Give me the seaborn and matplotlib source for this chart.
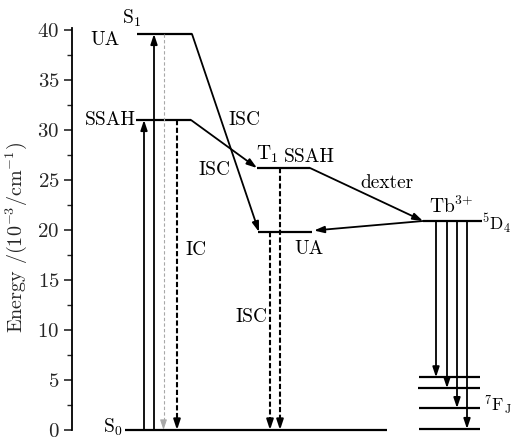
import numpy as np
import pandas as pd
import matplotlib
matplotlib.use("Agg")
import matplotlib.pyplot as plt
import seaborn as sns

# Energy levels (10^3 cm^-1)
E_S1 = 39.6          # S1 of UA
E_S1_SSAH = 31.0     # S1 of SSAH
E_T1_SSAH = 26.2     # T1 of SSAH
E_T1_UA = 19.8       # T1 of UA
E_D4 = 20.9          # Tb3+ 5D4
E_7F = [5.27, 4.18, 2.19, 0.1]   # Tb3+ 7F_J manifold
E_S0 = 0.0

# Horizontal layout of the columns (arbitrary units)
level_names = ["S1_UA", "S1_SSAH", "T1_SSAH", "T1_UA", "D4", "F1", "F2", "F3", "F4", "S0"]
level_E = [E_S1, E_S1_SSAH, E_T1_SSAH, E_T1_UA, E_D4] + E_7F + [E_S0]
level_x0 = [65, 64, 185, 186, 351, 347, 346, 347, 347, 53]
level_x1 = [120, 119, 238, 240, 410, 408, 408, 408, 408, 315]

yticks = [0, 5, 10, 15, 20, 25, 30, 35, 40]

sns.set_theme(style="ticks")
plt.rcParams["font.family"] = ["cmr10"]
plt.rcParams["mathtext.fontset"] = "cm"
plt.rcParams["axes.formatter.use_mathtext"] = True
plt.rcParams["axes.unicode_minus"] = False

fig = plt.figure(figsize=(5.12, 4.43), dpi=100)
ax = fig.add_axes([72 / 512, 13 / 443, 440 / 512, 401.5 / 443])

levels = pd.DataFrame({
    "level": np.repeat(level_names, 2),
    "x": np.ravel(np.column_stack([level_x0, level_x1])),
    "E": np.repeat(level_E, 2),
})
sns.lineplot(data=levels, x="x", y="E", units="level", estimator=None,
             color="black", lw=1.6, ax=ax, legend=False, clip_on=False,
             solid_capstyle="butt")

HEAD = "-|>,head_length=0.6,head_width=0.2"


def arrow(x0, y0, x1, y1, color="black", lw=1.3):
    ax.annotate("", xy=(x1, y1), xytext=(x0, y0),
                arrowprops=dict(arrowstyle=HEAD, color=color, lw=lw,
                                shrinkA=0, shrinkB=0, mutation_scale=10),
                annotation_clip=False)


def dashed_arrow(x, y0, y1, color="black", lw=1.5, dashes=(2.5, 1.2)):
    stop = y1 + 0.9
    ax.plot([x, x], [y0, stop], color=color, lw=lw, dashes=dashes,
            clip_on=False)
    arrow(x, stop, x, y1, color=color, lw=lw)


# absorption
arrow(72, E_S0, 72, E_S1_SSAH)
arrow(82, E_S0, 82, E_S1)
# relaxation from S1
dashed_arrow(91.5, E_S1, E_S0, color="#a8a8a8", lw=0.8, dashes=(3, 2))
dashed_arrow(105, E_S1_SSAH, E_S0)
# intersystem crossing
arrow(120, E_S1, 187, E_T1_UA)
arrow(119, E_S1_SSAH, 185, E_T1_SSAH)
dashed_arrow(198, E_T1_UA, E_S0)
dashed_arrow(208, E_T1_SSAH, E_S0)
# energy transfer
arrow(238, E_T1_SSAH, 351, E_D4)
arrow(351, E_D4, 242, 19.95)
# Tb3+ emission
for xa, ef in zip([364, 375, 385, 395], E_7F):
    arrow(xa, E_D4, xa, ef)

fs = 14
txt = dict(fontsize=fs, color="black", clip_on=False)
ax.text(60, 41.2, r"S$_1$", ha="center", va="center", **txt)
ax.text(33, 39.0, "UA", ha="center", va="center", **txt)
ax.text(64, 31.0, "SSAH", ha="right", va="center", **txt)
ax.text(172, 31.0, "ISC", ha="center", va="center", **txt)
ax.text(142, 26.0, "ISC", ha="center", va="center", **txt)
ax.text(195, 27.6, r"T$_1$", ha="center", va="center", **txt)
ax.text(237, 27.3, "SSAH", ha="center", va="center", **txt)
ax.text(315, 24.7, "dexter", ha="center", va="center", **txt)
ax.text(124, 18.0, "IC", ha="center", va="center", **txt)
ax.text(179, 11.3, "ISC", ha="center", va="center", **txt)
ax.text(237, 18.1, "UA", ha="center", va="center", **txt)
ax.text(379, 22.4, r"Tb$^{3{+}}$", ha="center", va="center", **txt)
ax.text(410.5, 20.7, r"$^5$D$_4$", ha="left", va="center",
        **{**txt, "fontsize": 12.5})
ax.text(412, 2.5, r"$^7$F$_\mathrm{J}$", ha="left", va="center",
        **{**txt, "fontsize": 12.5})
ax.text(51, 0.3, r"S$_0$", ha="right", va="center", **txt)

ax.set_xlim(0, 440)
ax.set_ylim(0, 40.15)
ax.set_yticks(yticks)
ax.set_yticks(np.arange(2.5, 40, 5), minor=True)
ax.set_xticks([])
ax.set_xlabel("")
ax.set_ylabel(r"Energy /(10$^{-3}$/cm$^{-1}$)", fontsize=14.5)
ax.yaxis.set_label_coords(-0.097, 0.48)
ax.tick_params(axis="y", which="major", length=6, width=1.2, labelsize=15,
               direction="out", pad=3)
ax.tick_params(axis="y", which="minor", length=3.5, width=1.0, direction="out")
for side in ["top", "right", "bottom"]:
    ax.spines[side].set_visible(False)
ax.spines["left"].set_linewidth(1.3)
ax.spines["left"].set_color("black")
ax.set_facecolor("white")
fig.patch.set_facecolor("white")

fig.savefig("out.png", dpi=100)
